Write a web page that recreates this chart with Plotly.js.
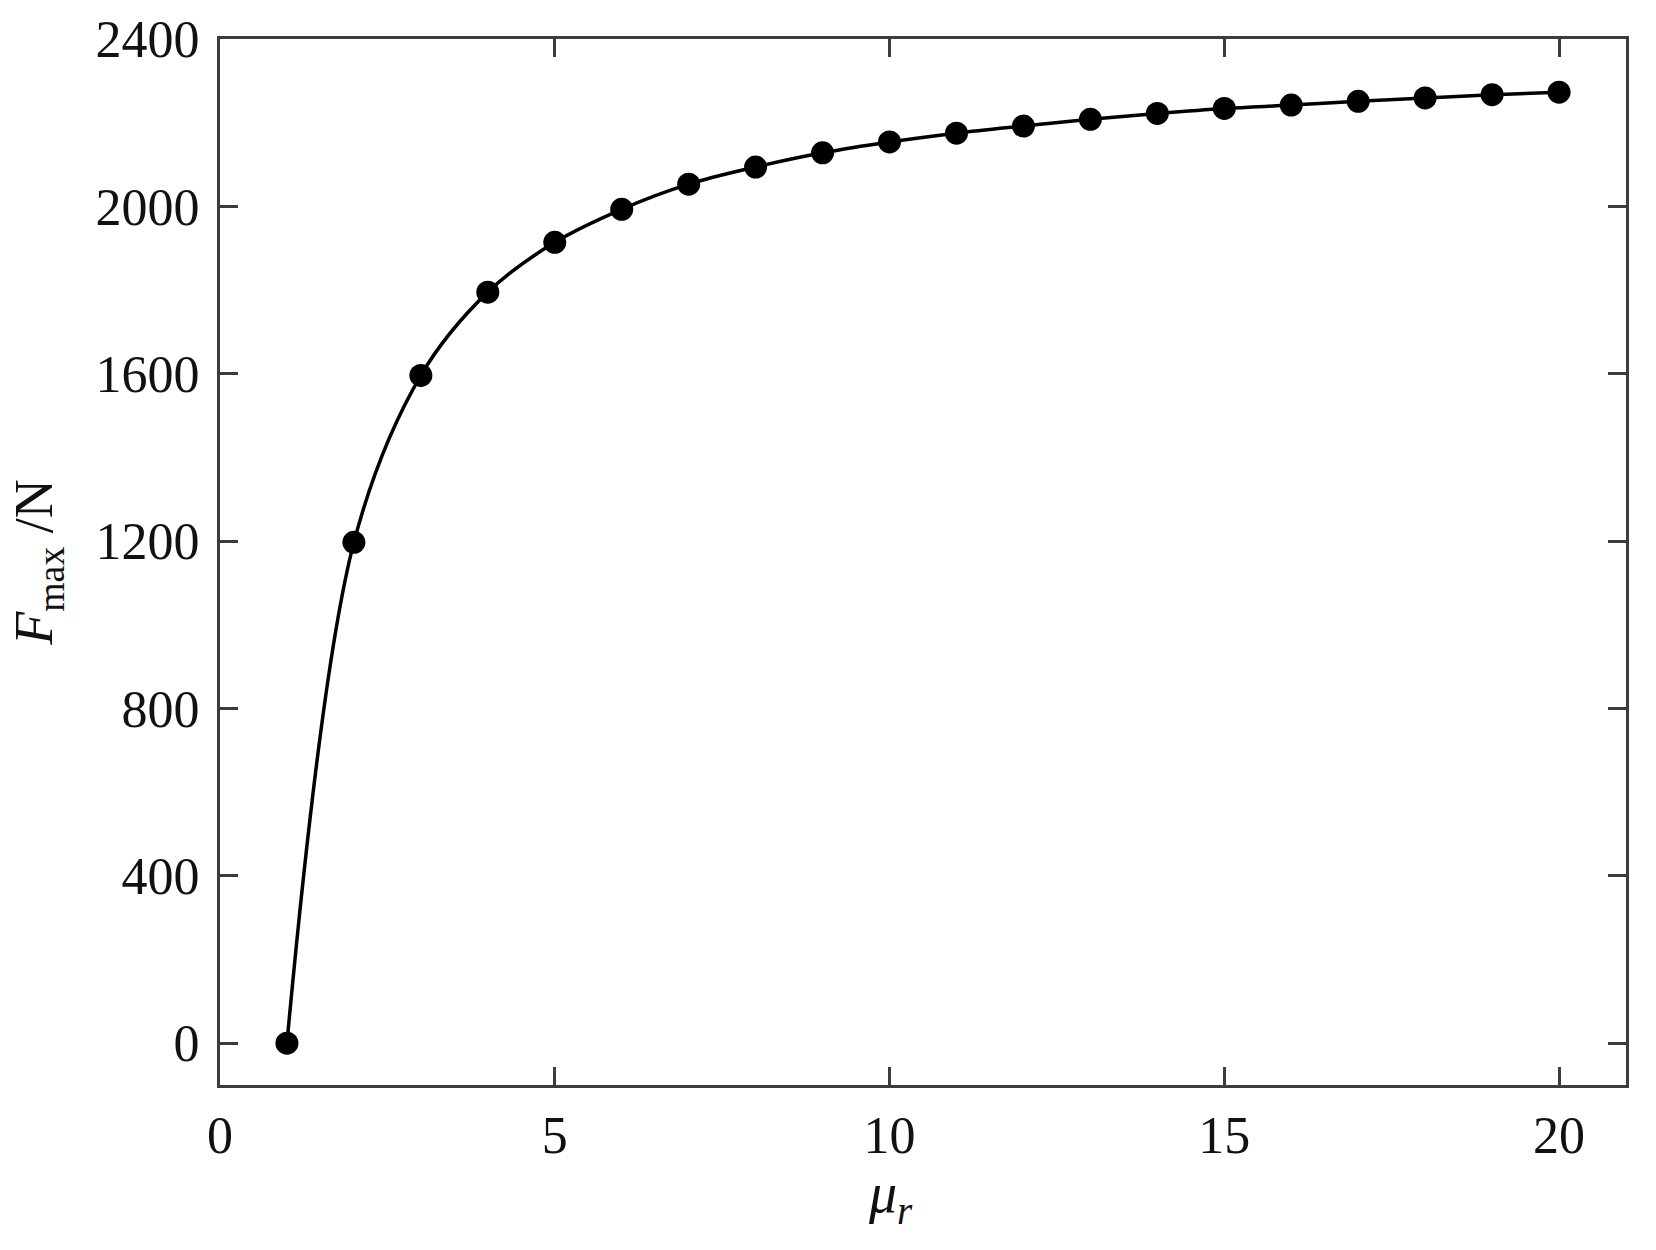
<!DOCTYPE html>
<html>
<head>
<meta charset="utf-8">
<script src="https://cdn.plot.ly/plotly-3.0.1.min.js"></script>
<style>html,body{margin:0;padding:0;background:#fff;}#chart{width:1656px;height:1250px;}</style>
</head>
<body>
<div id="chart"></div>
<script>
// Data
const muR = [1, 2, 3, 4, 5, 6, 7, 8, 9, 10, 11, 12, 13, 14, 15, 16, 17, 18, 19, 20];
const fMax = [0, 1197, 1596, 1795, 1914, 1993, 2053, 2094, 2128, 2154, 2175, 2192, 2208, 2222, 2234, 2242, 2251, 2259, 2267, 2273];
const xTicks = [0, 5, 10, 15, 20];
const yTicks = [0, 400, 800, 1200, 1600, 2000, 2400];

const FONT = "Liberation Serif, Times New Roman, serif";
const AXC = "#3c3c3c";

const trace = {
  x: muR, y: fMax,
  type: "scatter", mode: "lines+markers",
  line: {color: "#000", width: 3.5, shape: "spline", smoothing: 1},
  marker: {color: "#000", size: 23},
  showlegend: false, hoverinfo: "x+y"
};

const axisCommon = {
  showline: true, linecolor: AXC, linewidth: 3, mirror: "ticks",
  ticks: "inside", ticklen: 18, tickwidth: 3, tickcolor: AXC,
  showgrid: false, zeroline: false,
  tickfont: {family: FONT, size: 52, color: "#111"}
};

const layout = {
  width: 1656, height: 1250,
  margin: {l: 220, r: 30, t: 39, b: 165},
  paper_bgcolor: "#fff", plot_bgcolor: "#fff",
  font: {family: FONT, color: "#111"},
  xaxis: Object.assign({}, axisCommon, {
    range: [0, 21], tickmode: "array", tickvals: xTicks, ticktext: xTicks.map(String),
    ticklabelstandoff: 3
  }),
  yaxis: Object.assign({}, axisCommon, {
    range: [-100, 2400], tickmode: "array", tickvals: yTicks, ticktext: yTicks.map(String),
    ticklabelstandoff: 7,
    title: {text: "<i>F</i><sub>max</sub> /N", font: {family: FONT, size: 54, color: "#111"}, standoff: 26}
  }),
  annotations: [{
    text: "<i>μ</i><sub><i>r</i></sub>",
    xref: "paper", yref: "paper", x: 0.477, y: -0.0717,
    xanchor: "center", yanchor: "top", showarrow: false,
    font: {family: FONT, size: 56, color: "#111"}
  }]
};

Plotly.newPlot("chart", [trace], layout, {displayModeBar: false, staticPlot: true});
</script>
</body>
</html>
